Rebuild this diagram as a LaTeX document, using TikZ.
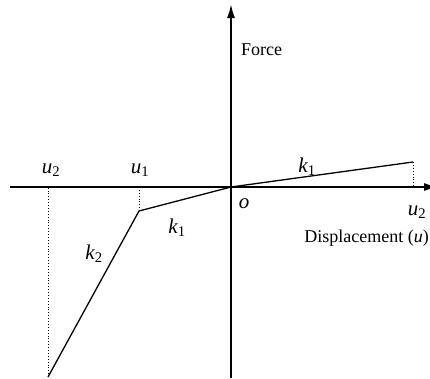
\documentclass[tikz,border=0pt]{standalone}
\usepackage{fontspec}
\setmainfont{Liberation Serif}
\usetikzlibrary{positioning,arrows.meta}
\newcommand{\sym}[2]{\textit{#1}\textsubscript{#2}}

\begin{document}
\begin{tikzpicture}[x=1pt,y=-1pt,>={Latex[length=14pt,width=8pt]},
        every node/.style={font=\fontsize{18}{21}\selectfont, inner sep=0pt},
        label/.style={font=\fontsize{21}{24}\selectfont},
        axis/.style={line width=2pt},
        branch/.style={line width=1.3pt},
        guide/.style={dotted, line width=0.9pt}]
        \useasboundingbox (0,0) rectangle (430,378);
        \coordinate (O) at (231,187);
        \coordinate (A) at (413,162);
        \coordinate (B) at (139,211);
        \coordinate (C) at (48,377);
        \draw[axis,->] (10,187) -- (438,187);
        \draw[axis,->] (231,378) -- (231,4);
        \draw[branch] (O) -- (A);
        \draw[branch] (O) -- (B) -- (C);
        \draw[guide] (A) -- (A |- O);
        \draw[guide] (B) -- (B |- O);
        \draw[guide] (C) -- (C |- O);
        \node[label] (u2l) at (51,170) {\sym{u}{2}};
        \node[label] (u1) at (140,170) {\sym{u}{1}};
        \node[label] (k1l) at (177,228) {\sym{k}{1}};
        \node[label] (k2) at (94,254) {\sym{k}{2}};
        \node[label] (k1r) at (307,167) {\sym{k}{1}};
        \node[label] (o) at (244,204) {\textit{o}};
        \node[label] (u2r) at (417,212) {\sym{u}{2}};
        \node[anchor=east] (disp) at (429,238) {Displacement (\textit{u})};
        \node[anchor=west] (force) at (241,50) {Force};
    \end{tikzpicture}
\end{document}
